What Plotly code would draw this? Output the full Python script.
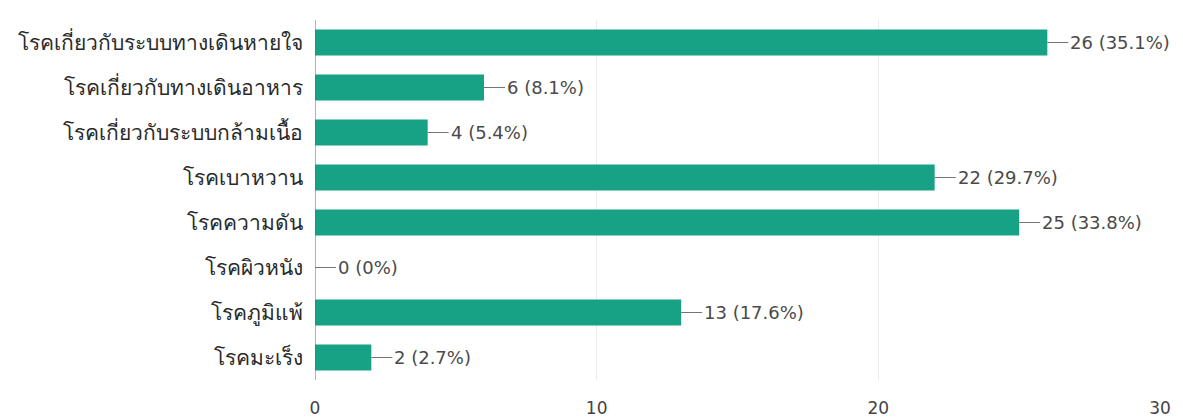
import plotly.graph_objects as go

categories = [
    "โรคเกี่ยวกับระบบทางเดินหายใจ",
    "โรคเกี่ยวกับทางเดินอาหาร",
    "โรคเกี่ยวกับระบบกล้ามเนื้อ",
    "โรคเบาหวาน",
    "โรคความดัน",
    "โรคผิวหนัง",
    "โรคภูมิแพ้",
    "โรคมะเร็ง",
]
counts = [26, 6, 4, 22, 25, 0, 13, 2]
percents = ["35.1%", "8.1%", "5.4%", "29.7%", "33.8%", "0%", "17.6%", "2.7%"]
x_ticks = [0, 10, 20, 30]

bar_color = "#17a185"
font_family = "'DejaVu Sans', Arial, sans-serif"

fig = go.Figure()
fig.add_trace(go.Bar(
    x=counts, y=categories, orientation="h",
    marker=dict(color=bar_color, line=dict(width=0)),
    width=0.58, hoverinfo="skip",
))

for c, v, p in zip(categories, counts, percents):
    fig.add_annotation(
        x=v, y=c, xref="x", yref="y",
        text=f"{v} ({p})", showarrow=True, arrowhead=0, arrowwidth=1,
        arrowcolor="#757575", ax=22, ay=0, xanchor="left",
        font=dict(family=font_family, size=18, color="#4a4a4a"),
        standoff=0, startstandoff=1, borderpad=0,
    )

fig.update_layout(
    width=1183, height=417,
    margin=dict(l=307, r=31, t=12, b=45, autoexpand=False),
    paper_bgcolor="white", plot_bgcolor="white",
    showlegend=False,
    font=dict(family=font_family, size=17, color="#222222"),
    xaxis=dict(range=[0, 30], tickvals=x_ticks, showgrid=True,
               gridcolor="#ebebeb", gridwidth=1, zeroline=False,
               showline=False, tickfont=dict(size=17, color="#444444"),
               ticks="", automargin=False, ticklabelstandoff=16),
    yaxis=dict(autorange="reversed", showgrid=False, showline=False,
               ticks="", ticklabelstandoff=11, automargin=False,
               tickfont=dict(size=21, color="#2a2a2a")),
    shapes=[dict(type="line", xref="x", yref="paper", x0=0, x1=0, y0=0, y1=1,
                 line=dict(color="#666666", width=1))],
)

fig.write_html("out.html")
